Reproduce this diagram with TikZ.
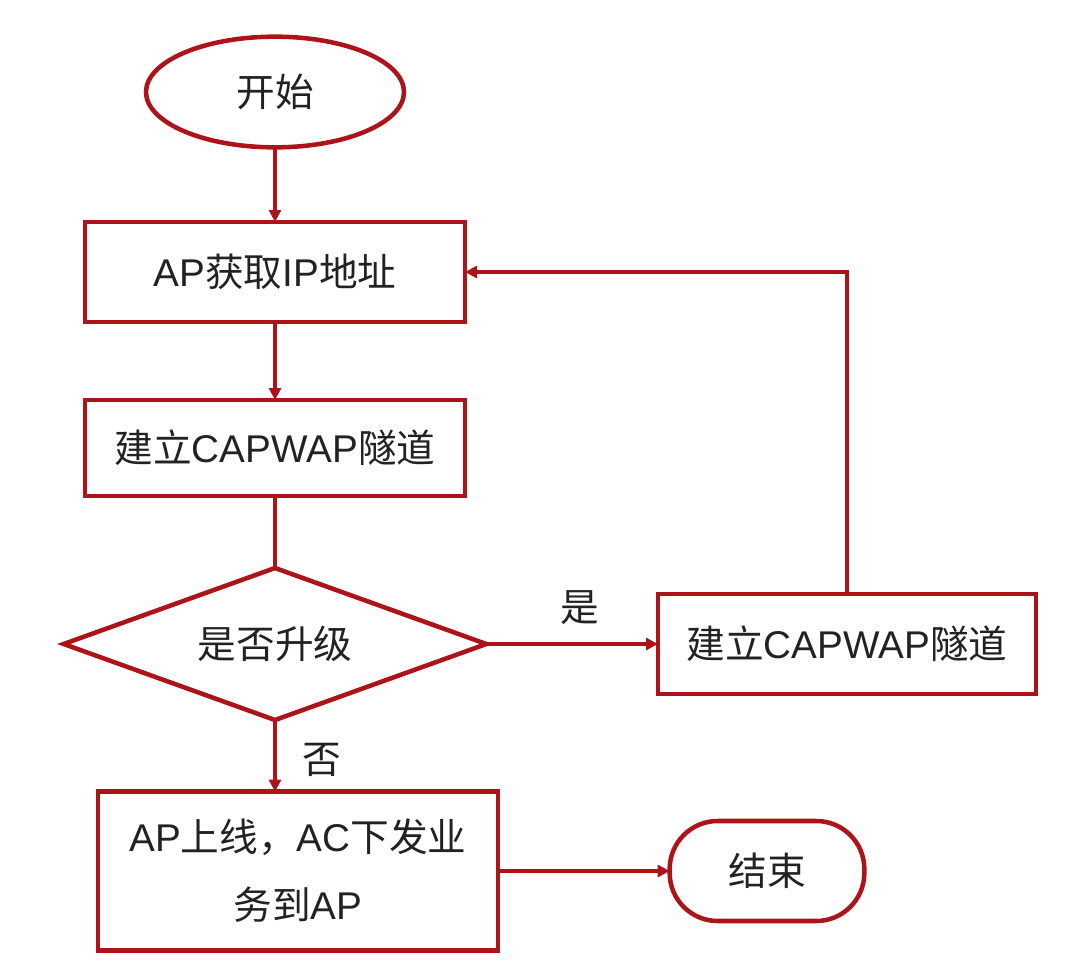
\documentclass[tikz,border=0pt]{standalone}
\usepackage{fontspec}
\setmainfont{Liberation Sans}
\newfontfamily\cjk{Noto Sans CJK SC}
\usetikzlibrary{shapes.geometric,arrows.meta}
\definecolor{fred}{RGB}{172,20,26}
\definecolor{ftxt}{RGB}{34,34,34}
\newcommand{\zh}[1]{{\cjk #1}}
\begin{document}
\begin{tikzpicture}[x=0.75pt,y=-0.75pt,
  every node/.style={font=\fontsize{29}{51}\selectfont, text=ftxt},
  proc/.style={draw=fred, line width=3.4pt, rectangle, inner sep=0pt, outer sep=0pt, align=center},
  term/.style={draw=fred, line width=3.4pt, ellipse, inner sep=0pt, outer sep=0pt},
  stad/.style={draw=fred, line width=3.4pt, rectangle, rounded corners=36pt, inner sep=0pt, outer sep=0pt},
  decis/.style={draw=fred, line width=3.4pt, diamond, shape aspect=2.8, inner sep=0pt, outer sep=0pt},
  flow/.style={draw=fred, line width=3.4pt, -{Triangle[length=9pt,width=9pt]}},
  plain/.style={draw=fred, line width=3.4pt},
  lbl/.style={inner sep=0pt}
  ]
\useasboundingbox (0,0) rectangle (1072,976);
\node[term, minimum width=193.5pt, minimum height=83pt] (start) at (275,92) {\zh{开始}};
\node[proc, minimum width=285pt, minimum height=75pt] (ip) at (275,272) {AP\zh{获取}IP\zh{地址}};
\node[proc, minimum width=285pt, minimum height=72pt] (cap) at (275,448) {\zh{建立}CAPWAP\zh{隧道}};
\node[decis, minimum width=317pt, minimum height=114pt] (up) at (275,644) {\zh{是否升级}};
\node[proc, minimum width=283.5pt, minimum height=75pt] (cap2) at (847,644) {\zh{建立}CAPWAP\zh{隧道}};
\node[proc, minimum width=300pt, minimum height=119pt] (online) at (298,871) {AP\zh{上线，}AC\zh{下发业}\\\zh{务到}AP};
\node[stad, minimum width=146pt, minimum height=75pt] (end) at (767,871) {\zh{结束}};
\node[lbl] (yes) at (580,608) {\zh{是}};
\node[lbl] (no) at (322,760) {\zh{否}};
\coordinate (corner) at (cap2.north |- ip.east);
\coordinate (ontop) at (up.south |- online.north);
\draw[flow] (start) -- (ip);
\draw[flow] (ip) -- (cap);
\draw[plain] (cap) -- (up.north);
\draw[flow] (up.east) -- (cap2);
\draw[flow] (cap2.north) -- (corner) -- (ip.east);
\draw[flow] (up.south) -- (ontop);
\draw[flow] (online) -- (end);
\end{tikzpicture}
\end{document}
